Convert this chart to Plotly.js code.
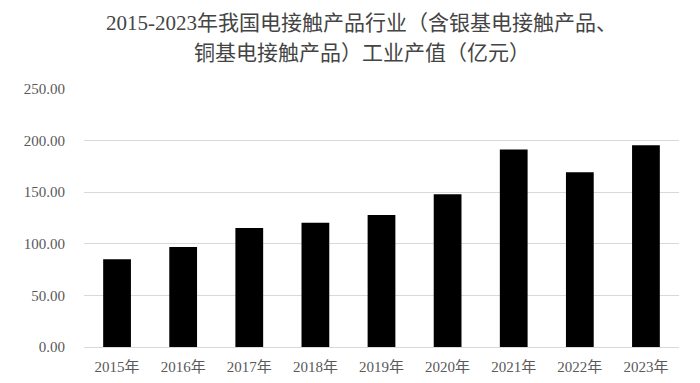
<!DOCTYPE html>
<html>
<head>
<meta charset="utf-8">
<script src="https://cdn.plot.ly/plotly-3.0.1.min.js"></script>
<style>html,body{margin:0;padding:0;background:#fff;}#chart{width:700px;height:383px;}</style>
</head>
<body>
<div id="chart"></div>
<script>
const years = ["2015年","2016年","2017年","2018年","2019年","2020年","2021年","2022年","2023年"];
const values = [85.0, 97.0, 115.3, 120.5, 128.0, 148.0, 191.3, 169.3, 195.4];
const yTicks = [0, 50, 100, 150, 200, 250];
const yTickText = ["0.00","50.00","100.00","150.00","200.00","250.00"];
const titleLines = ["2015-2023年我国电接触产品行业（含银基电接触产品、", "铜基电接触产品）工业产值（亿元）"];

const fontFam = '"Liberation Serif", "Times New Roman", "Noto Sans CJK SC", serif';

const titleY = [1.255, 1.138];
const annotations = titleLines.map((t, i) => ({
  text: t,
  xref: 'paper', yref: 'paper',
  x: 0.467, y: titleY[i],
  xanchor: 'center', yanchor: 'middle',
  showarrow: false,
  font: {family: fontFam, size: 21, color: '#444444'}
}));

Plotly.newPlot('chart', [{
  type: 'bar',
  x: years,
  y: values,
  marker: {color: '#000000'},
  hoverinfo: 'x+y'
}], {
  width: 700,
  height: 383,
  margin: {l: 84, r: 21, t: 89, b: 36},
  paper_bgcolor: '#ffffff',
  plot_bgcolor: '#ffffff',
  bargap: 0.58,
  showlegend: false,
  annotations: annotations,
  xaxis: {
    type: 'category',
    showgrid: false,
    showline: true,
    linecolor: '#d9d9d9',
    linewidth: 1,
    ticks: '',
    tickfont: {family: fontFam, size: 15, color: '#595959'},
    ticklabelstandoff: 6
  },
  yaxis: {
    range: [0, 250],
    tickvals: yTicks,
    ticktext: yTickText,
    showgrid: true,
    gridcolor: '#d9d9d9',
    gridwidth: 1,
    zeroline: false,
    showline: false,
    ticks: '',
    tickfont: {family: fontFam, size: 15, color: '#595959'},
    ticklabelstandoff: 18
  }
}, {displayModeBar: false, staticPlot: true});
</script>
</body>
</html>
